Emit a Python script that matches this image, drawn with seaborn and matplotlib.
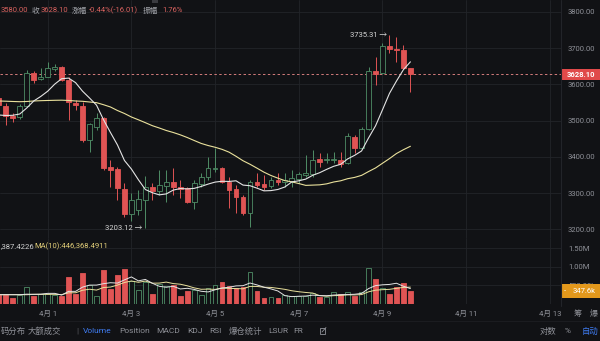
import matplotlib
matplotlib.use('Agg')
import matplotlib.pyplot as plt
import matplotlib.transforms as mtransforms
from matplotlib.patches import Rectangle
from matplotlib.lines import Line2D
import numpy as np
import pandas as pd
import seaborn as sns

# ---------------- data (4-hour candles, index 0 = 4月1 00:00) ----------------
candle_idx = list(range(-7, 53))
opens = [3562.5, 3540.5, 3513.6, 3509.2, 3540.5, 3630.7, 3614.2, 3621.4, 3641.8, 3647.3,
         3612.2, 3549.5, 3540.5, 3446.6, 3483.3, 3506.5, 3371.2, 3365.7, 3310.5, 3242.2,
         3253.3, 3280.9, 3317.7, 3306.6, 3320.4, 3331.5, 3317.7, 3313.2, 3276.2, 3325.1,
         3343.6, 3365.7, 3368.4, 3331.5, 3310.5, 3288.4, 3244.2, 3329.8, 3325.1, 3319.6,
         3336.2, 3331.5, 3334.2, 3338.1, 3350.0, 3352.7, 3393.3, 3391.4, 3391.4, 3391.4,
         3382.2, 3455.7, 3423.6, 3476.1, 3637.1, 3630.7, 3706.1, 3697.8, 3695.1, 3644.1]
highs = [3568.1, 3548.7, 3521.1, 3546.0, 3639.9, 3637.9, 3645.4, 3662.0, 3656.4, 3650.9,
         3620.5, 3557.0, 3552.3, 3492.7, 3520.3, 3509.2, 3391.4, 3372.9, 3327.0, 3300.2,
         3308.5, 3347.2, 3327.0, 3363.8, 3363.8, 3368.4, 3336.2, 3317.7, 3336.2, 3354.7,
         3398.8, 3423.6, 3372.9, 3345.3, 3322.4, 3294.7, 3336.2, 3354.7, 3350.0, 3345.3,
         3354.7, 3356.3, 3363.8, 3359.1, 3405.2, 3419.0, 3409.8, 3409.8, 3414.3, 3414.3,
         3465.1, 3460.4, 3483.3, 3649.0, 3676.6, 3715.2, 3735.31, 3731.8, 3708.9, 3644.2]
lows = [3534.9, 3488.0, 3496.3, 3505.9, 3538.5, 3603.1, 3612.2, 3620.5, 3637.9, 3610.3,
        3501.8, 3529.4, 3441.9, 3414.3, 3474.2, 3363.8, 3317.7, 3280.9, 3234.8, 3222.9,
        3239.5, 3203.12, 3280.9, 3294.7, 3276.2, 3294.7, 3285.6, 3271.8, 3255.2, 3317.7,
        3336.2, 3359.1, 3327.0, 3258.0, 3244.2, 3239.5, 3207.2, 3317.7, 3308.5, 3313.2,
        3322.4, 3317.7, 3317.7, 3327.0, 3345.3, 3345.3, 3372.9, 3382.2, 3382.2, 3372.9,
        3380.3, 3409.8, 3420.9, 3474.2, 3598.4, 3628.8, 3686.0, 3662.8, 3642.6, 3580.0]
closes = [3543.2, 3512.8, 3506.5, 3540.5, 3630.7, 3612.2, 3621.4, 3644.6, 3649.0, 3612.2,
          3552.3, 3542.4, 3446.6, 3490.0, 3506.5, 3368.4, 3363.8, 3313.2, 3242.2, 3280.9,
          3283.7, 3316.8, 3306.6, 3322.4, 3331.5, 3316.0, 3311.3, 3276.2, 3327.0, 3343.6,
          3368.4, 3370.1, 3331.5, 3308.5, 3288.4, 3244.2, 3331.5, 3321.5, 3317.7, 3336.2,
          3330.6, 3336.2, 3342.5, 3352.7, 3354.7, 3391.4, 3386.6, 3395.0, 3395.0, 3380.3,
          3457.6, 3423.6, 3476.1, 3637.9, 3628.8, 3706.1, 3697.0, 3695.1, 3644.1, 3628.1]
volumes_m = [0.24, 0.24, 0.15, 0.24, 0.45, 0.22, 0.26, 0.26, 0.24, 0.22,
             0.72, 0.26, 0.83, 0.51, 0.22, 0.91, 0.39, 0.78, 0.94, 0.62,
             0.38, 0.58, 0.27, 0.53, 0.49, 0.51, 0.22, 0.36, 0.38, 0.24,
             0.42, 0.51, 0.60, 0.48, 0.42, 0.45, 0.87, 0.35, 0.17, 0.19,
             0.17, 0.24, 0.22, 0.22, 0.22, 0.29, 0.18, 0.20, 0.31, 0.27,
             0.31, 0.22, 0.31, 0.96, 0.67, 0.42, 0.27, 0.47, 0.56, 0.3476]
# moving-average values before enough candles are visible
ma7_head = [3515.6, 3514.2, 3514.8, 3518.4, 3535.0, 3554.3]
ma30_head = [3554.3, 3553.7, 3552.9, 3552.3, 3552.9, 3554.3, 3555.1, 3555.7, 3556.2, 3556.5,
             3555.7, 3554.3, 3553.4, 3551.5, 3549.6, 3544.0, 3537.7, 3528.0, 3519.8, 3510.1,
             3502.4, 3494.4, 3486.1, 3479.7, 3472.8, 3467.3, 3460.9, 3453.5, 3445.2]
vma5_head = [0.25, 0.25, 0.25, 0.25]
vma10_head = [0.25, 0.25, 0.25, 0.25, 0.25, 0.26, 0.26, 0.26, 0.26]

date_ticks = [0, 12, 24, 36, 48, 60, 72]
date_labels = ['4月 1', '4月 3', '4月 5', '4月 7', '4月 9', '4月 11', '4月 13']
price_ticks = [3200, 3300, 3400, 3500, 3600, 3700, 3800]
vol_ticks = [0.5, 1.0, 1.5]
vol_tick_labels = ['500.00k', '1.00M', '1.50M']
last_price = 3628.10
last_volume_m = 0.3476
high_mark = (49, 3735.31)
low_mark = (14, 3203.12)

# ---------------- style ----------------
sns.set_theme(style='dark')
plt.rcParams['font.family'] = ['Roboto', 'Noto Sans CJK SC', 'DejaVu Sans']

BG = '#111215'
GRID = '#222429'
RED = '#e05454'
GREEN = '#4f8d66'
TXT = '#8f9198'
MA_W = '#e4e4e4'
MA_Y = '#eae19c'

W, H = 600, 341
fig = plt.figure(figsize=(6, 3.41), dpi=100, facecolor=BG)

def fx(px):
    return px / W

def fy(py):
    return 1 - py / H

ax = fig.add_axes([0, fy(238), fx(561), fy(0) - fy(238)])
axv = fig.add_axes([0, fy(304), fx(561), fy(238) - fy(304)], sharex=ax)
for a in (ax, axv):
    a.set_facecolor(BG)
    for s in a.spines.values():
        s.set_visible(False)
    a.grid(True, color=GRID, lw=0.6)
    a.set_axisbelow(True)

df = pd.DataFrame(dict(i=candle_idx, o=opens, h=highs, l=lows, c=closes, v=volumes_m))
up = (df.c >= df.o).values
edge = np.where(up, GREEN, RED)
face = np.where(up, BG, RED)

# candles
ax.vlines(df.i, df.l, df.h, colors=edge, lw=0.7, zorder=2)
body_lo = np.minimum(df.o, df.c)
body_h = np.maximum((df.c - df.o).abs(), 1.2)
ax.bar(df.i, body_h, bottom=body_lo, width=0.68, color=face, edgecolor=edge,
       linewidth=0.6, zorder=3)

ma7 = df.c.rolling(7).mean()
ma7.iloc[:6] = ma7_head
ma30 = df.c.rolling(30).mean()
ma30.iloc[:29] = ma30_head
sns.lineplot(x=df.i, y=ma30, ax=ax, color=MA_Y, lw=0.8, zorder=4)
sns.lineplot(x=df.i, y=ma7, ax=ax, color=MA_W, lw=0.8, zorder=5)

ax.axhline(last_price, color='#d47c7c', lw=0.7, ls=(0, (2.5, 2.5)), zorder=1)

# volume
axv.bar(df.i, df.v, width=0.68, color=face, edgecolor=edge, linewidth=0.6, zorder=2)
vma5 = df.v.rolling(5).mean()
vma5.iloc[:4] = vma5_head
vma10 = df.v.rolling(10).mean()
vma10.iloc[:9] = vma10_head
sns.lineplot(x=df.i, y=vma10, ax=axv, color=MA_Y, lw=0.7, zorder=3)
sns.lineplot(x=df.i, y=vma5, ax=axv, color=MA_W, lw=0.7, zorder=4)

# axes ranges
ax.set_xlim(-47.7 / 6.975, (561 - 47.7) / 6.975)
ax.set_ylim(3176.0, 3833.1)
axv.set_ylim(0, 1.774)

ax.set_yticks(price_ticks, [f'{p:.2f}' for p in price_ticks])
ax.yaxis.tick_right()
ax.tick_params(axis='y', length=0, pad=5, labelsize=5.5, labelcolor=TXT)
ax.tick_params(axis='x', length=0, labelbottom=False)
axv.set_yticks(vol_ticks, vol_tick_labels)
axv.yaxis.tick_right()
axv.tick_params(axis='y', length=0, pad=5, labelsize=5.5, labelcolor=TXT)
axv.set_xticks(date_ticks, date_labels)
axv.tick_params(axis='x', length=0, pad=4.5, labelsize=5.5, labelcolor=TXT)
for a in (ax, axv):
    a.set_xlabel('')
    a.set_ylabel('')

# right separator
fig.add_artist(Line2D([fx(561), fx(561)], [fy(0), fy(306)], color=GRID, lw=0.8))
fig.add_artist(Line2D([0, 1], [fy(321), fy(321)], color='#1b1c20', lw=0.8))

# last-price box
tp = mtransforms.blended_transform_factory(fig.transFigure, ax.transData)
ax.add_patch(Rectangle((fx(562), last_price - 15.5), fx(38), 31, transform=tp,
                       fc='#e04a4a', ec='none', clip_on=False, zorder=6))
ax.text(fx(581), last_price, f'{last_price:.2f}', transform=tp, ha='center', va='center',
        color='white', fontsize=5.5, fontweight='bold', clip_on=False, zorder=7)

# last-volume box
tv = mtransforms.blended_transform_factory(fig.transFigure, axv.transData)
axv.add_patch(Rectangle((fx(561), last_volume_m - 0.19), fx(39), 0.38, transform=tv,
                        fc='#e3981c', ec='none', clip_on=False, zorder=6))
axv.text(fx(564), last_volume_m, '-', transform=tv, ha='left', va='center',
         color='white', fontsize=5.5, clip_on=False, zorder=7)
axv.text(fx(596), last_volume_m, f'{last_volume_m * 1000:.1f}k', transform=tv, ha='right',
         va='center', color='white', fontsize=5.5, clip_on=False, zorder=7)

# high / low annotations
ax.text(high_mark[0] - 0.3, high_mark[1], f'{high_mark[1]:.2f} →', ha='right', va='center',
        color='#d6d6d6', fontsize=5.5, zorder=6)
ax.text(low_mark[0] - 0.5, low_mark[1], f'{low_mark[1]:.2f} →', ha='right', va='center',
        color='#d6d6d6', fontsize=5.5, zorder=6)

# header line
HR = '#d9625f'
HG = '#a3a5ab'
hy = fy(10.5)
for x, t, c in [(1, '3580.00', HR), (32, '收', HG), (41, '3628.10', HR), (72, '涨幅', HG),
                (89, '-0.44%(-16.01)', HR), (143, '振幅', HG), (162, '1.76%', HR)]:
    fig.text(fx(x), hy, t, color=c, fontsize=5.5, ha='left', va='center')
fig.add_artist(Rectangle((fx(152), fy(3)), fx(6), fy(0) - fy(3), transform=fig.transFigure,
                         fc='#3a3b40', ec='none'))

# volume header (left part is cut by the panel edge in the original)
vy = fy(245.7)
fig.text(fx(0.5), vy, ',387.4226', color='#d0d0d0', fontsize=5.5, ha='left', va='center')
fig.text(fx(34), vy, 'MA(10):446,368.4911', color='#e3cf7a', fontsize=5.5, ha='left', va='center')

# right-side icons on date row
fig.text(fx(578), fy(313), '筹', color=TXT, fontsize=5.8, ha='center', va='center')
fig.text(fx(594), fy(313), '爆', color=TXT, fontsize=5.8, ha='center', va='center')

# bottom toolbar
ty = fy(331)
BLUE = '#3f7cf2'
tool = [(0.5, '码分布', TXT), (28, '大额成交', TXT), (76, '|', '#5a5c62'),
        (83, 'Volume', BLUE), (119, 'Position', TXT), (156, 'MACD', TXT),
        (187, 'KDJ', TXT), (209, 'RSI', TXT), (229, '爆仓统计', TXT),
        (268, 'LSUR', TXT), (293, 'FR', TXT),
        (540, '对数', TXT), (565, '%', TXT), (582, '自动', BLUE)]
for x, t, c in tool:
    fig.text(fx(x), ty, t, color=c, fontsize=6, ha='left', va='center')

# external-link icon (no installed font has this symbol), drawn as a shape
fig.add_artist(Rectangle((fx(320), fy(334)), fx(5), fy(328) - fy(334), transform=fig.transFigure,
                         fc='none', ec=TXT, lw=0.6))
fig.add_artist(Line2D([fx(322), fx(326)], [fy(332), fy(327.5)], color=TXT, lw=0.6))

fig.savefig('out.png', dpi=100, facecolor=BG)
